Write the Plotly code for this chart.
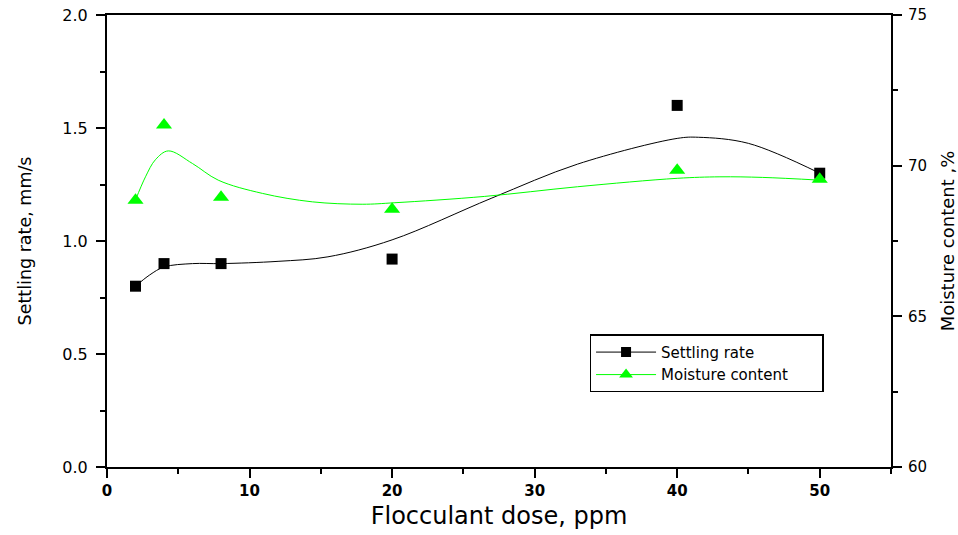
import plotly.graph_objects as go

# Measured data
dose = [2, 4, 8, 20, 40, 50]
settling_rate = [0.80, 0.90, 0.90, 0.92, 1.60, 1.30]
moisture = [68.85, 71.35, 68.95, 68.55, 69.85, 69.55]

# Smooth fitted curves
fit_settling_x = [2, 3, 4, 6, 8, 12, 15.5, 20, 27, 33, 40, 41.5, 45, 50]
fit_settling_y = [0.80, 0.85, 0.885, 0.90, 0.90, 0.91, 0.93, 1.005, 1.19, 1.34, 1.454, 1.459, 1.432, 1.30]
fit_moist_x = [2, 2.7, 3.4, 4.3, 6, 7.8, 10.9, 14.4, 17.9, 20.2, 26.5, 33, 40, 43, 46, 50]
fit_moist_y = [68.86, 69.63, 70.2, 70.49, 70.07, 69.52, 69.08, 68.80, 68.72, 68.77, 68.98, 69.30, 69.58, 69.63, 69.61, 69.52]

x_ticks = [0, 10, 20, 30, 40, 50]
left_ticks = [0.0, 0.5, 1.0, 1.5, 2.0]
right_ticks = [60, 65, 70, 75]

GREEN = "#00ff00"
FONT = "DejaVu Sans, Liberation Sans, Arial, sans-serif"
PAD = "\u00a0" * 6

fig = go.Figure()
fig.add_trace(go.Scatter(x=fit_settling_x, y=fit_settling_y, mode="lines", line=dict(color="black", width=1, shape="spline"), showlegend=False))
fig.add_trace(go.Scatter(x=dose, y=settling_rate, mode="markers", marker=dict(symbol="square", size=11, color="black"), showlegend=False))
fig.add_trace(go.Scatter(x=fit_moist_x, y=fit_moist_y, mode="lines", line=dict(color=GREEN, width=1, shape="spline"), yaxis="y2", showlegend=False))
fig.add_trace(go.Scatter(x=dose, y=moisture, mode="markers", marker=dict(symbol="triangle-up", size=14, color=GREEN), yaxis="y2", showlegend=False))
# legend entries
fig.add_trace(go.Scatter(x=[None], y=[None], mode="lines+markers", name="Settling rate",
                         line=dict(color="black", width=1), marker=dict(symbol="square", size=10, color="black")))
fig.add_trace(go.Scatter(x=[None], y=[None], mode="lines+markers", name="Moisture content" + PAD,
                         line=dict(color=GREEN, width=1), marker=dict(symbol="triangle-up", size=12, color=GREEN), yaxis="y2"))

axis_common = dict(showline=True, linecolor="black", linewidth=2, ticks="outside", ticklen=9, tickwidth=2,
                   tickcolor="black", showgrid=False, zeroline=False, automargin=False)

fig.update_layout(
    width=958, height=535,
    margin=dict(l=107, r=67, t=15, b=68),
    paper_bgcolor="white", plot_bgcolor="white",
    font=dict(family=FONT, color="black"),
    xaxis=dict(range=[0, 55], tickvals=x_ticks, ticktext=[f"<b>{v}</b>" for v in x_ticks], mirror=True,
               tickfont=dict(size=15), title=dict(text="Flocculant dose, ppm", font=dict(size=24), standoff=8),
               minor=dict(dtick=5, ticks="outside", ticklen=5, tickwidth=2, tickcolor="black"), **axis_common),
    yaxis=dict(range=[0, 2.0], tickvals=left_ticks, ticktext=[f"{v:.1f}" for v in left_ticks],
               tickfont=dict(size=16), ticklabelstandoff=5,
               title=dict(text="Settling rate, mm/s", font=dict(size=17.5), standoff=26),
               minor=dict(dtick=0.25, ticks="outside", ticklen=5, tickwidth=2, tickcolor="black"), **axis_common),
    yaxis2=dict(range=[60, 75], tickvals=right_ticks, overlaying="y", side="right",
                tickfont=dict(size=15), ticklabelstandoff=3,
                title=dict(text="Moisture content ,%", font=dict(size=18), standoff=16),
                minor=dict(dtick=2.5, ticks="outside", ticklen=5, tickwidth=2, tickcolor="black"), **axis_common),
    legend=dict(x=0.6155, y=0.2935, xanchor="left", yanchor="top", bordercolor="black", borderwidth=1.5,
                bgcolor="white", font=dict(size=15), tracegroupgap=0, itemwidth=60),
)

fig.write_html("out.html", config={"displayModeBar": False},
               post_script="document.body.style.margin='0';")
